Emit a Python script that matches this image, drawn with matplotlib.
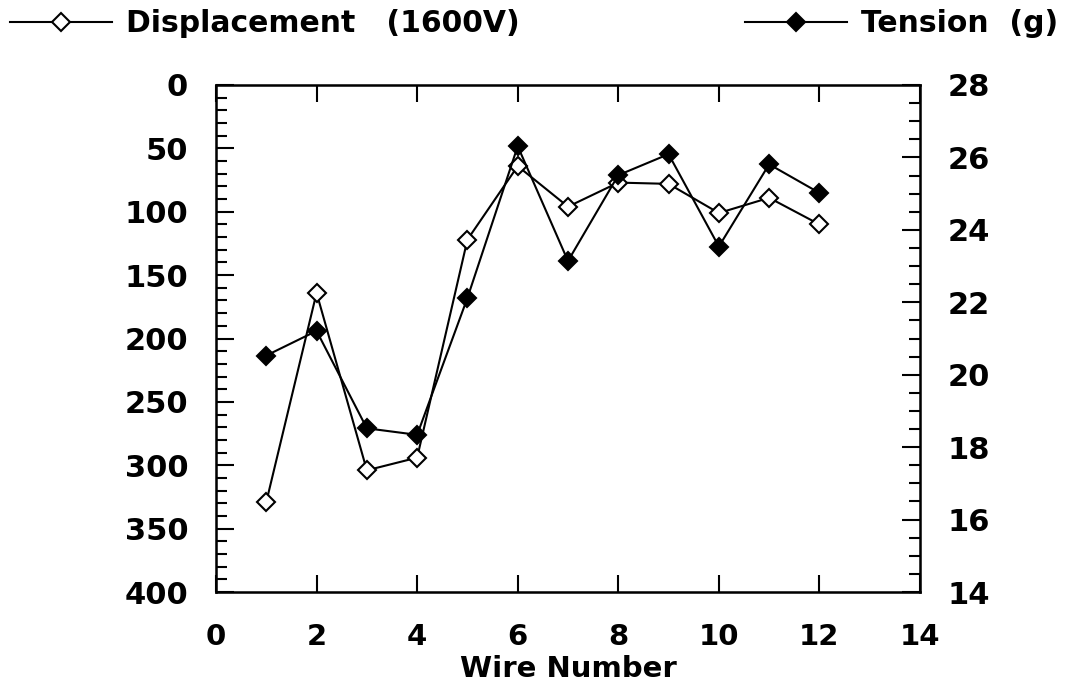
import numpy as np
import matplotlib
matplotlib.use("Agg")
import matplotlib.pyplot as plt
from matplotlib.ticker import MultipleLocator

# data
wire = [1, 2, 3, 4, 5, 6, 7, 8, 9, 10, 11, 12]
displacement = [329, 164, 304, 294, 122, 64, 96, 77, 78, 101, 89, 110]
tension = [20.53, 21.21, 18.52, 18.34, 22.12, 26.31, 23.14, 25.51, 26.09, 23.54, 25.81, 25.02]

x_ticks = list(range(0, 15, 2))
disp_ticks = list(range(0, 401, 50))
tens_ticks = list(range(14, 29, 2))

plt.rcParams["font.family"] = ["DejaVu Sans"]
plt.rcParams["font.weight"] = "bold"

fig = plt.figure(figsize=(10.65, 6.92), dpi=100)
ax = fig.add_axes([216 / 1065, 1 - 592 / 692, 704 / 1065, 507 / 692])

# Displacement: open diamonds, left axis (inverted)
l1, = ax.plot(wire, displacement, color="black", lw=1.5, marker="D", ms=9.5,
              mfc="white", mec="black", mew=1.5)
ax.set_xlim(0, 14)
ax.set_ylim(400, 0)
ax.set_xticks(x_ticks)
ax.set_yticks(disp_ticks)
ax.yaxis.set_minor_locator(MultipleLocator(10))
ax.tick_params(axis="x", direction="in", top=True, length=12, width=1.5, pad=22,
               labelsize=21)
ax.tick_params(axis="y", which="major", direction="in", length=13, width=1.5, pad=20,
               labelsize=22)
ax.tick_params(axis="y", which="minor", direction="in", length=8, width=1.5)
for sp in ax.spines.values():
    sp.set_linewidth(1.8)

# Tension: filled diamonds, right axis
ax2 = ax.twinx()
l2, = ax2.plot(wire, tension, color="black", lw=1.5, marker="D", ms=9.5,
               mfc="black", mec="black", mew=1.5)
ax2.set_ylim(14, 28)
ax2.set_yticks(tens_ticks)
ax2.yaxis.set_minor_locator(MultipleLocator(0.5))
ax2.tick_params(axis="y", which="major", direction="in", length=13, width=1.5, pad=20,
                labelsize=22)
ax2.tick_params(axis="y", which="minor", direction="in", length=8, width=1.5)

ax.set_xlabel("Wire Number", fontsize=21, fontweight="bold", labelpad=3)

common = dict(loc="center left", frameon=False, borderpad=0, borderaxespad=0,
              handlelength=3.4, handletextpad=0.5, numpoints=1,
              prop={"family": "DejaVu Sans", "weight": "bold", "size": 21.5})
leg1 = fig.legend(handles=[l1], labels=["Displacement   (1600V)"],
                  bbox_to_anchor=(10 / 1065, 1 - 24 / 692), **common)
leg2 = fig.legend(handles=[l2], labels=["Tension  (g)"],
                  bbox_to_anchor=(745 / 1065, 1 - 24 / 692), **common)

fig.savefig("out.png", dpi=100)
